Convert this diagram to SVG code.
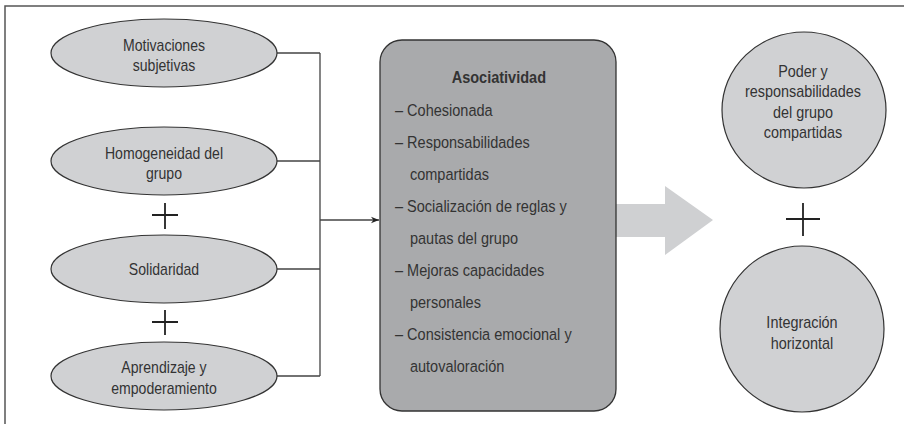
<svg xmlns="http://www.w3.org/2000/svg" width="904" height="424" viewBox="0 0 904 424">
<style>
.t{font-family:"Liberation Sans",Arial,sans-serif;font-size:16px;fill:#333;text-anchor:middle}
.b{font-family:"Liberation Sans",Arial,sans-serif;font-size:16.5px;fill:#333}
.ell{fill:#d0d1d3;stroke:#333;stroke-width:1.2}
.con{fill:none;stroke:#444;stroke-width:1.3}
.plus{stroke:#222;stroke-width:1.8}
</style>
<defs>
<marker id="ah" viewBox="0 0 10 10" refX="10" refY="5" markerWidth="8" markerHeight="8" markerUnits="userSpaceOnUse" orient="auto">
<path d="M0,1 L10,5 L0,9 L3,5 Z" fill="#222"/>
</marker>
</defs>
<rect width="904" height="424" fill="#fff"/>
<path d="M5,430 L5,6 L910,6" fill="none" stroke="#555" stroke-width="1.5"/>

<g id="connectors">
<path class="con" d="M277,53 H320 M277,161 H320 M277,269 H320 M277,376 H320 M320,53 V376"/>
<path class="con" d="M320,220 H379" marker-end="url(#ah)"/>
<path d="M616,204 H665 V186 L713,220 L665,255 V237 H616 Z" fill="#cfd0d2"/>
</g>

<g id="n1"><ellipse class="ell" cx="164" cy="53" rx="113" ry="34"/>
<g transform="translate(164 0) scale(0.88 1)"><text class="t" x="0" y="51">Motivaciones</text><text class="t" x="0" y="71">subjetivas</text></g></g>
<g id="n2"><ellipse class="ell" cx="164" cy="161" rx="113" ry="34"/>
<g transform="translate(164 0) scale(0.88 1)"><text class="t" x="0" y="159">Homogeneidad del</text><text class="t" x="0" y="179">grupo</text></g></g>
<g id="p1"><path class="plus" d="M152,215 H178 M165,203 V229"/></g>
<g id="n3"><ellipse class="ell" cx="164" cy="269" rx="113" ry="34"/>
<g transform="translate(164 0) scale(0.88 1)"><text class="t" x="0" y="275">Solidaridad</text></g></g>
<g id="p2"><path class="plus" d="M152,322 H178 M165,310 V335"/></g>
<g id="n4"><ellipse class="ell" cx="164" cy="376" rx="113" ry="34"/>
<g transform="translate(164 0) scale(0.88 1)"><text class="t" x="0" y="373">Aprendizaje y</text><text class="t" x="0" y="394">empoderamiento</text></g></g>

<g id="box">
<rect x="380" y="40" width="236" height="371" rx="22" ry="22" fill="#a9aaac" stroke="#333" stroke-width="1.3"/>
<g transform="translate(395 0) scale(0.88 1)">
<text class="b" x="118" y="83" text-anchor="middle" font-weight="bold">Asociatividad</text>
<text class="b" x="0" y="116">– Cohesionada</text>
<text class="b" x="0" y="148">– Responsabilidades</text>
<text class="b" x="17" y="180">compartidas</text>
<text class="b" x="0" y="212">– Socialización de reglas y</text>
<text class="b" x="17" y="244">pautas del grupo</text>
<text class="b" x="0" y="276">– Mejoras capacidades</text>
<text class="b" x="17" y="308">personales</text>
<text class="b" x="0" y="340">– Consistencia emocional y</text>
<text class="b" x="17" y="372">autovaloración</text>
</g>
</g>

<g id="c1"><ellipse class="ell" cx="804" cy="110" rx="82" ry="78"/>
<g transform="translate(803 0) scale(0.9 1)"><text class="t" x="0" y="77">Poder y</text><text class="t" x="0" y="97">responsabilidades</text>
<text class="t" x="0" y="118">del grupo</text><text class="t" x="0" y="138">compartidas</text></g></g>
<g id="p3"><path class="plus" d="M786,219 H820 M803,203 V236"/></g>
<g id="c2"><ellipse class="ell" cx="802" cy="329" rx="82" ry="83"/>
<g transform="translate(802 0) scale(0.9 1)"><text class="t" x="0" y="328">Integración</text><text class="t" x="0" y="349">horizontal</text></g></g>
</svg>
